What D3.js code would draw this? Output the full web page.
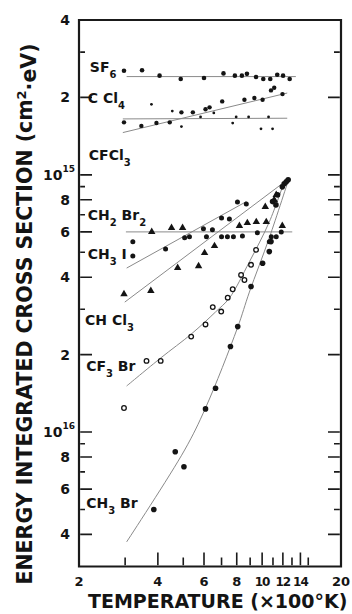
<!DOCTYPE html>
<html><head><meta charset="utf-8">
<script src="https://cdn.jsdelivr.net/npm/d3@7"></script>
<style>
body{margin:0;background:#fff;}
svg{display:block;}
text{font-family:"DejaVu Sans",sans-serif;font-weight:bold;fill:#141414;}
</style></head><body>
<svg id="c" width="352" height="614"></svg>
<script>
// Temperature in units of 100 K; cross section in units of 1e-16 cm^2·eV
const sf6T   = [2.97,3.48,4.06,4.89,6.0,7.12,7.87,8.37,8.75,9.48,10.1,10.74,11.42,12.02,12.74];
const sf6S   = [25.4,25.5,24.3,23.6,23.8,24.8,24.3,24.3,24.7,24.0,23.6,23.6,24.5,24.3,23.6];
const ccl4T  = [2.97,3.46,3.95,4.44,4.92,5.44,6.08,6.30,7.04,8.56,9.34,10.04,10.81,11.12,11.96];
const ccl4S  = [16.0,15.5,15.9,16.0,17.5,17.5,18.0,18.3,19.3,19.6,19.9,19.6,21.3,21.8,20.6];
const cfcl3T = [3.78,4.54,5.82,6.54,4.92,7.72,7.96,8.88,10.58,9.90,10.96];
const cfcl3S = [18.8,17.7,16.8,17.4,15.4,15.9,16.8,16.8,16.8,15.1,15.1];
const ch2br2TriT = [3.79,4.51,4.97,8.19,8.78,9.50,10.37,11.94];
const ch2br2TriS = [6.00,6.22,6.22,6.33,6.50,6.56,6.56,6.33];
const ch2br2DotT = [5.06,5.28,6.13,7.00,7.37,7.77,8.41,9.59,10.84,11.32,11.83,10.65];
const ch2br2DotS = [5.69,5.74,5.74,5.74,5.74,5.74,5.79,5.95,5.74,5.74,6.00,5.49];
const ch3iT  = [3.21,3.21,4.28,5.97,6.46,7.00,7.50,8.05,8.70];
const ch3iS  = [5.49,4.84,5.15,6.17,6.11,6.80,6.74,7.85,7.71];
const chcl3T = [2.97,3.76,4.76,5.72,6.03,6.58,10.28,11.12,11.32];
const chcl3S = [3.44,3.54,4.35,4.42,4.97,5.29,7.51,7.99,8.36];
const cf3brT = [2.97,3.62,4.10,5.36,6.08,6.48,6.98,7.39,7.72,8.31,8.56,9.07,9.48];
const cf3brS = [1.24,1.89,1.89,2.35,2.62,3.06,2.94,3.33,3.59,4.08,3.90,4.47,5.11];
const ch3brT = [3.86,4.66,5.03,6.08,6.64,7.57,8.07,9.07,10.04,10.65,10.81,10.96,11.29,11.45,11.94,12.14,12.36,12.57];
const ch3brS = [0.500,0.838,0.733,1.23,1.48,2.15,2.57,3.68,4.53,5.03,5.50,7.87,7.64,8.36,8.98,9.23,9.39,9.56];

// fitted curves
const sf6FitT = [3.04,13.45],  sf6FitS = [24.1,24.1];
const ccl4FitT = [2.94,12.47], ccl4FitS = [14.6,20.8];
const cfcl3FitT = [2.94,12.47], cfcl3FitS = [16.5,16.6];
const ch2br2FitT = [3.02,13.03], ch2br2FitS = [6.0,6.0];
const ch3iFitT = [3.04,8.70], ch3iFitS = [4.34,7.87];
const chcl3FitT = [2.99,12.47], chcl3FitS = [3.20,9.56];
const cf3brFitT = [3.04,4.10,5.38,6.64,7.50,8.94,10.65,12.14];
const cf3brFitS = [1.51,1.94,2.41,2.93,3.32,4.59,6.56,9.39];
const ch3brFitT = [3.04,5.06,6.08,8.05,8.94,10.65,12.68];
const ch3brFitS = [0.374,0.851,1.24,2.54,3.50,5.69,9.74];

// axes
const xDomain = [2,20];
const yDomain = [0.3,40];
const xTicks = [3,4,5,6,7,8,9,10,11,12,13,14,15];
const xLabelVals = [2,4,6,8,10,12,14,20];
const yTicks = [0.4,0.5,0.6,0.7,0.8,0.9,1,2,3,4,5,6,7,8,9,10,20,30];
const yLabelVals = [40,20,10,8,6,4,2,1,0.8,0.6,0.4];
const yLabelText = ["4","2","10|15","8","6","4","2","10|16","8","6","4"];

// species labels
const labels = [
  {parts:[["SF",0],["6",1]], T:2.20, S:25.2},
  {parts:[["C Cl",0],["4",1]], T:2.16, S:19.1},
  {parts:[["CFCl",0],["3",1]], T:2.18, S:11.4},
  {parts:[["CH",0],["2",1],[" Br",0],["2",1]], T:2.16, S:6.68},
  {parts:[["CH",0],["3",1],[" I",0]], T:2.16, S:4.71},
  {parts:[["CH Cl",0],["3",1]], T:2.11, S:2.61},
  {parts:[["CF",0],["3",1],[" Br",0]], T:2.13, S:1.73},
  {parts:[["CH",0],["3",1],[" Br",0]], T:2.13, S:0.506}
];

const svg = d3.select("#c");
const x = d3.scaleLog().domain(xDomain).range([79,341]);
const y = d3.scaleLog().domain(yDomain).range([566.5,20]);
const ink = "#141414";
const isMajorX = v => v%2===0;
const isMajorY = v => yLabelVals.includes(v);
const line = d3.line().x(d=>x(d[0])).y(d=>y(d[1]));
const curve = d3.line().x(d=>x(d[0])).y(d=>y(d[1])).curve(d3.curveCatmullRom.alpha(0.5));

const [xa, xb] = xDomain, [ya, yb] = yDomain;
const X0 = x(xa), X1 = x(xb), YB = y(ya), YT = y(yb);

// frame: a ring drawn as a filled shape (outer box minus inner box), even-odd
const fw = 2.2;
const ring = d3.path();
ring.rect(X0-fw/2, YT-fw/2, X1-X0+fw, YB-YT+fw);
ring.rect(X0+fw/2, YT+fw/2, X1-X0-fw, YB-YT-fw);
svg.append("path").attr("d", ring.toString()).attr("fill","#1a1a1a").attr("fill-rule","evenodd");

// ticks: start just inside the frame
const tks = d3.path();
xTicks.forEach(v=>{
  const h = isMajorX(v)?14:9;
  tks.rect(x(v)-0.8, YB-h, 1.6, h-1.2);
});
yTicks.forEach(v=>{
  const wl = isMajorY(v)?13:6, wr = isMajorY(v)?13:7;
  tks.rect(X0+1.2, y(v)-0.8, wl-1.2, 1.6);
  tks.rect(X1-wr, y(v)-0.8, wr-1.2, 1.6);
});
svg.append("path").attr("d", tks.toString()).attr("fill","#1a1a1a");

// fit lines
const fits = [
  [sf6FitT,sf6FitS,line],[ccl4FitT,ccl4FitS,line],[cfcl3FitT,cfcl3FitS,line],
  [ch2br2FitT,ch2br2FitS,line],[ch3iFitT,ch3iFitS,line],[chcl3FitT,chcl3FitS,line],
  [cf3brFitT,cf3brFitS,curve],[ch3brFitT,ch3brFitS,curve]
];
fits.forEach(([t,s,gen])=>{
  svg.append("path").attr("d",gen(t.map((v,i)=>[v,s[i]])))
    .attr("fill","none").attr("stroke","#8a8a8a").attr("stroke-width",1);
});

function dots(t,s,r){
  svg.append("g").selectAll("circle").data(t.map((v,i)=>[v,s[i]])).join("circle")
    .attr("cx",d=>x(d[0])).attr("cy",d=>y(d[1])).attr("r",r).attr("fill",ink);
}
function opens(t,s,r){
  svg.append("g").selectAll("circle").data(t.map((v,i)=>[v,s[i]])).join("circle")
    .attr("cx",d=>x(d[0])).attr("cy",d=>y(d[1])).attr("r",r).attr("fill","#fff")
    .attr("stroke",ink).attr("stroke-width",1.3);
}
const tri = d3.symbol().type(d3.symbolTriangle).size(24);
function tris(t,s){
  svg.append("g").selectAll("path").data(t.map((v,i)=>[v,s[i]])).join("path")
    .attr("d",tri).attr("transform",d=>`translate(${x(d[0])},${y(d[1])})`).attr("fill",ink);
}
dots(sf6T,sf6S,2.3);
dots(ccl4T,ccl4S,2.2);
dots(cfcl3T,cfcl3S,1.4);
tris(ch2br2TriT,ch2br2TriS);
dots(ch2br2DotT,ch2br2DotS,2.5);
dots(ch3iT,ch3iS,2.5);
tris(chcl3T,chcl3S);
opens(cf3brT,cf3brS,2.3);
dots(ch3brT,ch3brS,2.8);

// x tick labels
svg.append("g").selectAll("text").data(xLabelVals).join("text")
  .attr("x",d=>x(d)).attr("y",YB+19).attr("text-anchor","middle")
  .style("font-size",d=>d>=10&&d<20?"12px":"13px")
  .style("letter-spacing",d=>d>=10&&d<20?"-1px":"0px")
  .text(d=>d);

// y tick labels
svg.append("g").selectAll("text").data(yLabelVals).join("text")
  .attr("text-anchor","end").attr("y",d=>y(d)+5).attr("x",(d,i)=>yLabelText[i].includes("|")?X0-4:X0-9)
  .style("font-size","14px")
  .each(function(d,i){
    const parts = yLabelText[i].split("|");
    const t = d3.select(this);
    t.append("tspan").text(parts[0]);
    if(parts[1]) t.append("tspan").attr("dy",-8).style("font-size","9px").text(parts[1]);
  });

// species labels
labels.forEach(L=>{
  const t = svg.append("text").attr("x",x(L.T)).attr("y",y(L.S)).style("font-size","14px");
  let sub=false;
  L.parts.forEach(([s,isSub])=>{
    const sp = t.append("tspan").text(s);
    if(isSub && !sub){ sp.attr("dy",6).style("font-size","10px"); sub=true; }
    else if(!isSub && sub){ sp.attr("dy",-6); sub=false; }
    else if(isSub) sp.style("font-size","10px");
  });
});

// axis titles
svg.append("text").attr("x",88).attr("y",608).style("font-size","19px")
  .text("TEMPERATURE  (×100°K)");
const yt = svg.append("text").attr("transform","translate(32,314) rotate(-90)")
  .attr("text-anchor","middle").style("font-size","20.5px");
yt.append("tspan").text("ENERGY INTEGRATED CROSS SECTION (cm");
yt.append("tspan").attr("dy","-0.5em").style("font-size","13px").text("2");
yt.append("tspan").attr("dy","0.5em").text("·eV)");
</script>
</body></html>
